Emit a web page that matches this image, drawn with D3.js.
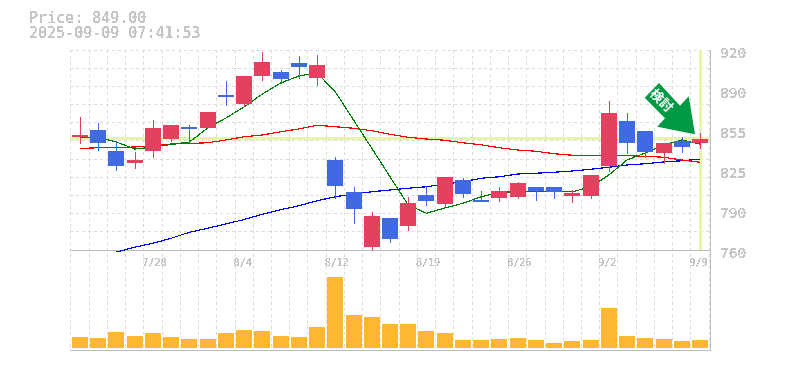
<!DOCTYPE html>
<html>
<head>
<meta charset="utf-8">
<script src="https://d3js.org/d3.v7.min.js"></script>
<style>
 html, body {margin: 0; padding: 0; background: #fff;}
 svg {display: block;}
 text {font-family: "DejaVu Sans Mono", monospace; fill: #c6c6c6;}
</style>
<title>Price chart</title>
</head>
<body>
<div id="contenedor"></div>
<script>
var dates = ["7/22","7/23","7/24","7/25","7/28","7/29","7/30","7/31","8/1","8/4","8/5","8/6","8/7","8/8","8/12","8/13","8/14","8/15","8/18","8/19","8/20","8/21","8/22","8/25","8/26","8/27","8/28","8/29","9/1","9/2","9/3","9/4","9/5","9/8","9/9"];
var opens = [850.4,856,839.2,829.6,839.2,848.8,858.4,857.6,884,876.8,899.2,902.4,909.6,897.6,832,806.4,762.4,785.6,779.2,804,796.8,816,800,801.6,802.4,810.4,810.4,803.2,803.2,827.2,863.2,855.2,837.6,847.2,845.6];
var highs = [866.4,861.6,846.4,838.4,864,860,860,870.4,895.2,899.2,918.4,904,915.2,916,834.4,810.4,790.4,785.6,802.4,811.2,818.4,817.6,807.2,810.4,814.4,810.4,810.4,808,820,879.2,869.6,855.2,845.6,850.4,853.6];
var lows = [844.8,839.2,823.2,824.8,833.6,846.4,845.6,857.6,875.2,874.4,895.2,892.8,896.8,891.2,800.8,780.8,759.2,765.6,775.2,795.2,794.4,801.6,798.4,798.4,800.8,799.2,800.8,797.6,800.8,822.4,836.8,833.6,828.8,837.6,840.8];
var closes = [852,845.6,827.2,832,857.6,860,856.8,870.4,882.4,899.2,910.4,896.8,906.4,908,811.2,792.8,787.2,768.8,797.6,799.2,818.4,804.8,798.4,807.2,813.6,807.2,806.4,805.6,820,869.6,845.6,838.4,845.6,842.4,849];
var ma5 = [850.4,850,846.4,840.8,842.4,844.4,846.4,857.6,865.6,874.4,884.8,893.6,899.2,901.6,886.6,864,841.4,818.6,796,789.4,793.6,797.4,802.6,806.2,806.6,806.6,806.6,806.6,810.4,820,832,837.6,844,848,844.8];
var ma25 = [841.2,841.8,842,842.4,843.6,844.8,845.2,845.8,848,850.6,852,854.6,856.8,859.8,858.6,857.4,855.4,852.6,850.2,848.8,847.8,845.8,844.2,841.8,840,839,837,835.8,835.8,835.8,835.4,835,834.2,832,830.2];
var ma75 = [null,null,758.4,762.2,765.4,769.4,774.2,777.4,780.8,784.4,788.6,792.2,795.4,799.4,802.6,804.8,806.6,808,809.4,810.6,812.8,814.6,817.4,818.6,820.8,821.4,822.2,823.2,824.6,826.2,828,829,830.4,831.4,832.6];
var volumes = [11,10,16,12,15,11,9,9,15,18,17,12,11,21,71,33,31,24,24,17,15,8,8,9,10,8,5,7,8,40,12,10,9,7,8];
var priceTicks = [920,888,856,824,792,760];
var priceLabels = ["920","890","855","825","790","760"];
var dateTicks = ["7/28","8/4","8/12","8/19","8/26","9/2","9/9"];
var lastPrice = 849;
var title = ["Price: 849.00","2025-09-09 07:41:53"];

var rojo = "#e2425f", azul = "#4169e1", gris = "#bdbdbd", letra = "#c6c6c6", rejilla = "#dcdcdc", banda = "#e5f6aa";

var svg = d3.select("#contenedor").append("svg").attr("width",785).attr("height",370);

// hard edged text, the original is drawn without antialiasing
var filtro = svg.append("defs").append("filter").attr("id","duro")
    .attr("filterUnits","userSpaceOnUse").attr("x",0).attr("y",0).attr("width",785).attr("height",370);
filtro.append("feComponentTransfer").append("feFuncA").attr("type","discrete").attr("tableValues","0 1 1 1");

var x = d3.scalePoint().domain(dates).range([80,700]);
var y = d3.scaleLinear().domain([760,920]).range([250,50]);
var yVol = d3.scaleLinear().domain([0,71]).range([348,277]);
var paso = x.step();

// grid
var grid = svg.append("g").attr("stroke",rejilla).attr("stroke-dasharray","3,3").attr("shape-rendering","crispEdges");
grid.selectAll(".v").data(d3.range(36)).enter().append("line").attr("class","v")
    .attr("x1",function(i){ return Math.floor(x(dates[0]) - paso/2 + i*paso) + 0.5; })
    .attr("x2",function(i){ return Math.floor(x(dates[0]) - paso/2 + i*paso) + 0.5; })
    .attr("y1",50).attr("y2",350);
grid.selectAll(".h").data(d3.range(1,12)).enter().append("line").attr("class","h")
    .attr("x1",70).attr("x2",710)
    .attr("y1",function(i){ return Math.floor(y(760 + i*160/11)) + 0.5; })
    .attr("y2",function(i){ return Math.floor(y(760 + i*160/11)) + 0.5; });

// current price and current date bands
svg.append("line").attr("x1",70).attr("x2",710).attr("y1",y(lastPrice)).attr("y2",y(lastPrice))
   .attr("stroke",banda).attr("stroke-width",3).attr("shape-rendering","crispEdges");
svg.append("line").attr("x1",x("9/9")+0.5).attr("x2",x("9/9")+0.5).attr("y1",50).attr("y2",250)
   .attr("stroke",banda).attr("stroke-width",3).attr("shape-rendering","crispEdges");

// frame
var marco = svg.append("g").attr("stroke",gris).attr("shape-rendering","crispEdges");
marco.append("line").attr("x1",70).attr("x2",710).attr("y1",250.5).attr("y2",250.5);
marco.append("line").attr("x1",70).attr("x2",710).attr("y1",350.5).attr("y2",350.5);
marco.append("line").attr("x1",710.5).attr("x2",710.5).attr("y1",50).attr("y2",351);

// moving averages
function pintaLinea(valores, color) {
  var linea = d3.line()
      .defined(function(d){ return d != null; })
      .x(function(d,i){ return x(dates[i]); })
      .y(function(d){ return y(d); });
  svg.append("path").attr("d",linea(valores)).attr("fill","none")
     .attr("stroke",color).attr("stroke-width",1.2).attr("shape-rendering","crispEdges");
}
pintaLinea(ma75,"#0000ff");
pintaLinea(ma25,"#ff0000");
pintaLinea(ma5,"#008000");

// candles
var velas = svg.append("g").selectAll("g").data(dates).enter().append("g")
    .attr("fill",function(d,i){ return closes[i] >= opens[i] ? rojo : azul; })
    .attr("shape-rendering","crispEdges");
velas.append("rect")
    .attr("x",function(d){ return Math.round(x(d)); })
    .attr("width",1)
    .attr("y",function(d,i){ return Math.round(y(highs[i])); })
    .attr("height",function(d,i){ return Math.round(y(lows[i])) - Math.round(y(highs[i])); });
velas.append("rect")
    .attr("x",function(d){ return Math.round(x(d) - 8); })
    .attr("width",16)
    .attr("y",function(d,i){ return Math.round(y(Math.max(opens[i],closes[i]))); })
    .attr("height",function(d,i){ return Math.max(1, Math.round(y(Math.min(opens[i],closes[i]))) - Math.round(y(Math.max(opens[i],closes[i])))); });

// volume
svg.append("g").selectAll("rect").data(dates).enter().append("rect")
    .attr("x",function(d){ return Math.round(x(d) - 8); })
    .attr("width",16)
    .attr("y",function(d,i){ return yVol(volumes[i]); })
    .attr("height",function(d,i){ return yVol(0) - yVol(volumes[i]); })
    .attr("fill","#ffb733").attr("shape-rendering","crispEdges");

// axes
var ejeY = svg.append("g").attr("transform","translate(720,0)").attr("filter","url(#duro)")
    .call(d3.axisRight(y).tickValues(priceTicks).tickSize(0).tickPadding(0)
    .tickFormat(function(d,i){ return priceLabels[i]; }));
ejeY.select(".domain").remove();
ejeY.selectAll("text").attr("x",0).attr("dy",null).attr("y",7.5).style("font-size","14.5px")
    .style("font-family","'DejaVu Sans Mono', monospace").style("fill",letra);

var ejeX = svg.append("g").attr("filter","url(#duro)")
    .call(d3.axisBottom(x).tickValues(dateTicks).tickSize(0).tickPadding(0));
ejeX.select(".domain").remove();
ejeX.selectAll("text").attr("text-anchor","start").attr("x",-11).attr("y",266).attr("dy",null).style("font-size","10px")
    .style("font-family","'DejaVu Sans Mono', monospace").style("fill",letra);

// title
svg.append("g").attr("filter","url(#duro)").selectAll("text").data(title).enter().append("text")
   .attr("x",29).attr("y",function(d,i){ return 23 + i*15; })
   .style("font-size","15px").text(function(d){ return d; });

// arrow over the last candle
var flecha = svg.append("g").attr("transform","translate(" + (x("9/9") - 5) + "," + (y(lastPrice) - 4.5) + ")");
flecha.append("polygon").attr("fill","#009944")
    .attr("points","-36,-51.3 -50.3,-36.6 -30,-16 -37.7,-7.6 0,0 -6.3,-38 -15,-28.6");
flecha.append("text").attr("transform","translate(-33,-34) rotate(45)").attr("text-anchor","middle").attr("dy","0.38em")
    .style("font-family","'Noto Sans CJK JP', sans-serif").style("font-weight","bold").style("font-size","13px")
    .style("fill","#fff").text("検討");
</script>
</body>
</html>
